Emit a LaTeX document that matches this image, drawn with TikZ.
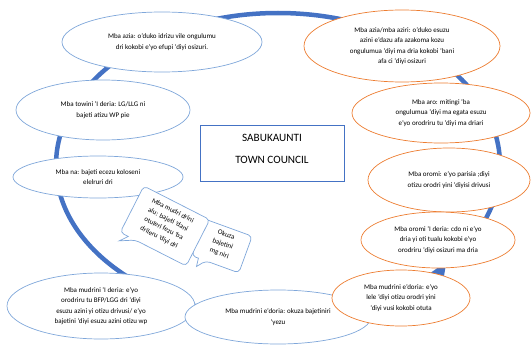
\documentclass[tikz,border=0pt]{standalone}
\usepackage{fontspec}
\setmainfont{Carlito}
\usetikzlibrary{shapes.geometric}
\definecolor{ringblue}{HTML}{4472C4}
\definecolor{lblue}{HTML}{7FA7DA}
\definecolor{orng}{HTML}{ED7D31}
\tikzset{
  ringline/.style={draw=ringblue, line width=4.5pt},
  ell/.style={ellipse, fill=white, line width=0.7pt, inner sep=0pt, align=center,
              font=\fontsize{7}{10.5}\selectfont},
  bell/.style={ell, draw=lblue},
  oell/.style={ell, draw=orng},
  titlebox/.style={draw=ringblue, line width=0.7pt, fill=white, minimum width=144pt,
              minimum height=56pt, inner sep=0pt},
  titletext/.style={inner sep=0pt, font=\fontsize{11.2}{13}\selectfont},
  bubble/.style={draw=lblue, fill=white, line width=0.7pt, rounded corners=4pt},
  btext/.style={align=center, font=\fontsize{7}{10}\selectfont, inner sep=0pt}
}
\begin{document}
\begin{tikzpicture}[x=1pt,y=-1pt]
\useasboundingbox (0,0) rectangle (532,345);
% cycle ring
\draw[ringline] (278,165) ellipse [x radius=222, y radius=152];
\fill[ringblue] (178,300) -- (198,307) -- (180,313) -- cycle;
\fill[ringblue] (430,274) -- (446,264) -- (444,276) -- cycle;
% ellipses
\node[bell, minimum width=200pt, minimum height=60pt] (e1) at (162,42)
  {Mba azia: o’duko idrizu vile ongulumu\\dri kokobi e’yo efupi ‘diyi osizuri.};
\node[oell, minimum width=196pt, minimum height=72pt] (e2) at (402,46)
  {Mba azia/mba aziri: o’duko esuzu\\azini e’dazu afa azakoma kozu\\ongulumua ‘diyi ma dria kokobi ‘bani\\afa ci ‘diyi osizuri};
\node[bell, minimum width=174pt, minimum height=60pt] (e3) at (103,110)
  {Mba towini ‘I deria: LG/LLG ni\\bajeti atizu WP pie};
\node[oell, minimum width=178pt, minimum height=60pt] (e4) at (441,113)
  {Mba aro: mitingi ‘ba\\ongulumua ‘diyi ma egata esuzu\\e’yo orodriru tu ‘diyi ma driari};
\node[oell, minimum width=162pt, minimum height=64pt] (e5) at (449,180)
  {Mba oromi: e’yo parisia ;diyi\\otizu orodri yini ‘diyisi drivusi};
\node[bell, minimum width=170pt, minimum height=42pt] (e6) at (98,177)
  {Mba na: bajeti ecezu koloseni\\elelruri dri};
\node[oell, minimum width=154pt, minimum height=56pt] (e7) at (438,240)
  {Mba oromi ‘I deria: cdo ni e’yo\\dria yi oti tualu kokobi e’yo\\orodriru ‘diyi osizuri ma dria};
\node[bell, minimum width=188pt, minimum height=66pt] (e9) at (101,306)
  {Mba mudrini ‘I deria: e’yo\\orodriru tu BFP/LGG dri ‘diyi\\esuzu azini yi otizu drivusi/ e’yo\\bajetini ‘diyi esuzu azini otizu wp};
\node[bell, minimum width=186pt, minimum height=54pt] (e10) at (278,317)
  {Mba mudrini e’doria: okuza bajetiniri\\‘yezu};
\node[oell, minimum width=138pt, minimum height=56pt] (e8) at (401,298)
  {Mba mudrini e’doria: e’yo\\lele ‘diyi otizu orodri yini\\‘diyi vusi kokobi otuta};
% title
\node[titlebox] (title) at (272,153) {};
\node[titletext] (t1) at (272,138) {SABUKAUNTI};
\node[titletext] (t2) at (272,160) {TOWN COUNCIL};
% callout bubbles
\begin{scope}[shift={(222,246)}, rotate=-20]
  \draw[bubble] (-25,-19.5) -- (25,-19.5) -- (25,19.5) -- (-10,19.5)
     [sharp corners] -- (-17,28) -- (-18,19.5) [rounded corners=4pt] -- (-25,19.5) -- cycle;
  \node[btext, rotate=-20] (b2) at (0,-2) {Okuza\\bajetini\\mg niri};
\end{scope}
\begin{scope}[shift={(165,226)}, rotate=-27]
  \draw[bubble] (-37,-26) -- (37,-26) -- (37,26) -- (-20,26)
     [sharp corners] -- (-34,34) -- (-28,26) [rounded corners=4pt] -- (-37,26) -- cycle;
  \node[btext, rotate=-27] (b1) at (0,-2) {Mba mudri drini\\alu: bajeti ‘dani\\otuleri fezu ‘ba\\drileru ‘diyi dri};
\end{scope}
\end{tikzpicture}
\end{document}
